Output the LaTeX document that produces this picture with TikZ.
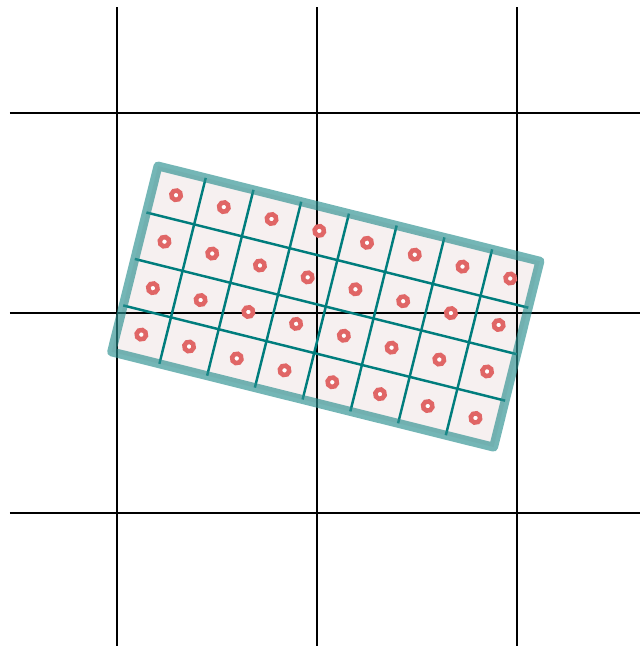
\documentclass[tikz,border=0pt]{standalone}
\usepackage{xcolor}
\usepackage{tikz}
\definecolor{cellteal}{HTML}{007D7D}
\definecolor{rimteal}{HTML}{2A8F8F}
\definecolor{ringred}{HTML}{E06666}
\definecolor{cellfill}{HTML}{F6F0F0}

\begin{document}
\begin{tikzpicture}[
    gridline/.style={draw=black, line width=1.25pt},
    cellline/.style={draw=cellteal, line width=1.4pt},
    rim/.style={draw=rimteal, draw opacity=0.65, line width=5.1pt, line join=round},
    ring/.style={draw=ringred, fill=white, line width=2.6pt}
]
    \useasboundingbox (-6.34,-6.66) rectangle (6.46,6.26);

    % rotated patch, 8 x 4 cells
    \begin{scope}[shift={(-3.18,2.94)}, rotate=-14, x=0.984cm, y=0.958cm]
        \fill[cellfill] (0,0) rectangle (8,-4);
    \end{scope}

    % coarse grid
    \foreach \k in {-4,0,4} {
        \draw[gridline] (-6.14,\k) -- (6.46,\k);
        \draw[gridline] (\k,6.12) -- (\k,-6.66);
    }

    \begin{scope}[shift={(-3.18,2.94)}, rotate=-14, x=0.984cm, y=0.958cm]
        \foreach \i in {1,...,7}
            \draw[cellline] (\i,0) -- (\i,-4);
        \foreach \j in {1,2,3}
            \draw[cellline] (0,-\j) -- (8,-\j);
        \draw[rim] (0,0) rectangle (8,-4);
        \foreach \i in {0,...,7}
            \foreach \j in {0,...,3}
                \draw[ring] (\i+0.5,-\j-0.5) circle (0.095cm);
    \end{scope}
\end{tikzpicture}
\end{document}
